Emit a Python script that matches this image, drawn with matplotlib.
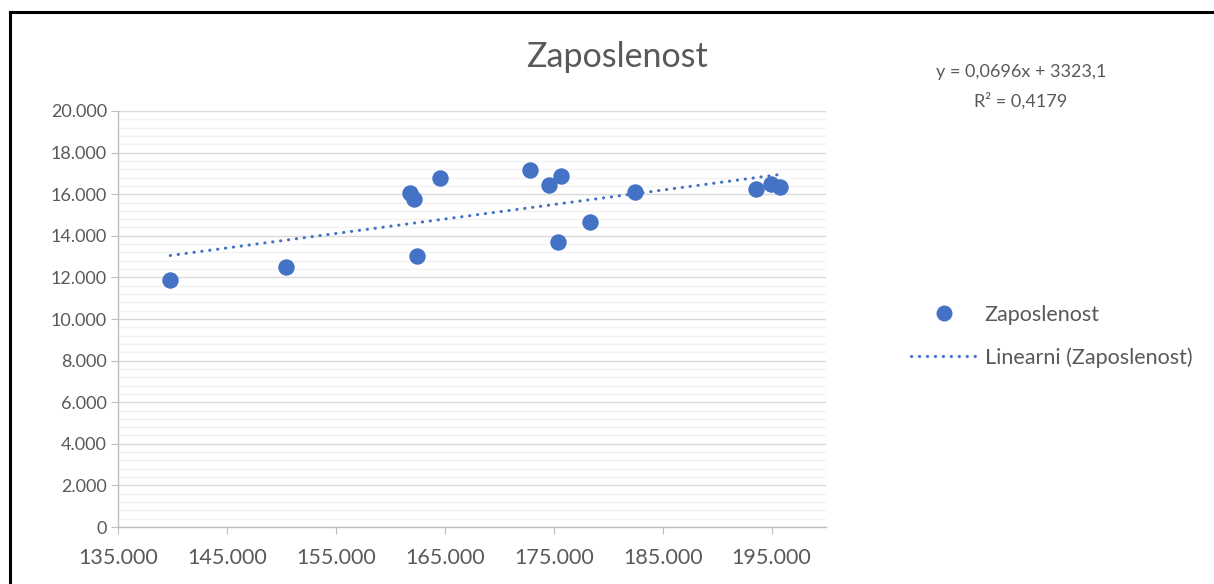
import matplotlib
matplotlib.use("Agg")
import matplotlib.pyplot as plt
from matplotlib.lines import Line2D
from matplotlib.ticker import MultipleLocator, FuncFormatter
import numpy as np

plt.rcParams['font.family'] = ['Lato', 'DejaVu Sans']

title = "Zaposlenost"
series_name = "Zaposlenost"
trend_name = "Linearni (Zaposlenost)"
x_vals = [139800, 150400, 161800, 162200, 162450, 164550, 172850, 174600,
          175700, 175400, 178350, 182450, 193600, 194950, 195800]
y_vals = [11870, 12500, 16060, 15770, 13030, 16790, 17160, 16440,
          16880, 13700, 14660, 16110, 16250, 16470, 16350]
x_ticks = [135000, 145000, 155000, 165000, 175000, 185000, 195000]
slope = 0.0696
intercept = 3323.1
eq_text = "y = 0,0696x + 3323,1"
r2_text = "R² = 0,4179"

blue = "#4472C4"
txt = "#595959"

W, H = 1214, 584
fig = plt.figure(figsize=(W / 100, H / 100), dpi=100)
ax = fig.add_axes([118 / W, (H - 527) / H, (826 - 118) / W, (527 - 111) / H])

ax.scatter(x_vals, y_vals, s=140, color=blue, zorder=3, linewidths=0)
xs = np.array([min(x_vals), max(x_vals)])
ax.plot(xs, slope * xs + intercept, color=blue, lw=2.2,
        linestyle=(0, (0.1, 2.5)), dash_capstyle='round', zorder=2)

ax.set_xlim(135000, 200000)
ax.set_ylim(0, 20000)
ax.set_xticks(x_ticks)
ax.yaxis.set_major_locator(MultipleLocator(2000))
ax.yaxis.set_minor_locator(MultipleLocator(400))
fmt = FuncFormatter(lambda v, p: f"{int(v):,}".replace(",", "."))
ax.xaxis.set_major_formatter(fmt)
ax.yaxis.set_major_formatter(fmt)

ax.grid(axis='y', which='major', color='#D9D9D9', lw=1.0)
ax.grid(axis='y', which='minor', color='#F2F2F2', lw=1.0)
ax.set_axisbelow(True)
for s in ['top', 'right']:
    ax.spines[s].set_visible(False)
for s in ['left', 'bottom']:
    ax.spines[s].set_color('#BFBFBF')
    ax.spines[s].set_linewidth(1.0)
ax.tick_params(axis='both', which='major', direction='out', length=5,
               color='#BFBFBF', labelcolor=txt)
ax.tick_params(axis='y', which='minor', length=0)
ax.tick_params(axis='x', labelsize=15.5, pad=10)
ax.tick_params(axis='y', labelsize=13, pad=3)

fig.text(617 / W, 1 - 57 / H, title, ha='center', va='center', fontsize=24.5, color=txt)
fig.text(1021 / W, 1 - 72 / H, eq_text, ha='center', va='center', fontsize=13, color=txt)
fig.text(1021 / W, 1 - 101 / H, r2_text, ha='center', va='center', fontsize=13, color=txt)

handles = [
    Line2D([], [], marker='o', color=blue, linestyle='none', markersize=11.5,
           markeredgewidth=0),
    Line2D([], [], color=blue, lw=2.2, linestyle=(0, (0.1, 2.5)),
           dash_capstyle='round'),
]
leg = fig.legend(handles, [series_name, trend_name], loc='upper left',
                 bbox_to_anchor=(902 / W, 1 - 296 / H), frameon=False,
                 fontsize=15.5, labelcolor=txt, handlelength=3.1,
                 handletextpad=0.35, labelspacing=1.05, borderaxespad=0)

# chart frame border (top and left)
fig.add_artist(Line2D([10 / W, 1], [1 - 12 / H, 1 - 12 / H], color='black', lw=2.2,
                      transform=fig.transFigure))
fig.add_artist(Line2D([10 / W, 10 / W], [0, 1 - 12 / H], color='black', lw=2.2,
                      transform=fig.transFigure))

fig.savefig("out.png", dpi=100)
